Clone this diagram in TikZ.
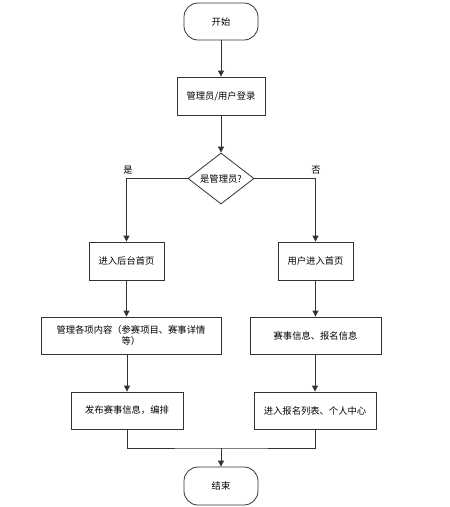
\documentclass[tikz,border=0pt]{standalone}
\usepackage{fontspec}
\setmainfont{Noto Sans CJK SC}
\usetikzlibrary{shapes.geometric,arrows.meta}
\definecolor{lc}{HTML}{333333}
\tikzset{
  base/.style={draw=lc, line width=0.8pt, font=\fontsize{9.3}{11}\selectfont, inner sep=0pt, align=center},
  term/.style={base, rectangle, rounded corners=14pt, minimum width=74pt, minimum height=37pt},
  proc/.style={base, rectangle, minimum height=38pt},
  dec/.style={base, diamond, minimum width=66pt, minimum height=51pt},
  conn/.style={draw=lc, line width=0.8pt, -{Triangle[length=6pt,width=6pt]}},
  plain/.style={draw=lc, line width=0.8pt},
  lbl/.style={font=\fontsize{9.3}{11}\selectfont, inner sep=0pt}
}
\begin{document}
\begin{tikzpicture}[x=1pt,y=-1pt]
\useasboundingbox (0,0) rectangle (450,507);
\node[term] (start) at (221,21.5) {开始};
\node[proc, minimum width=88pt] (login) at (221,96) {管理员/用户登录};
\node[dec] (dec) at (221,178.5) {\makebox[0pt]{是管理员?}};
\node[proc, minimum width=75pt] (a1) at (126.5,261) {进入后台首页};
\node[proc, minimum width=75pt] (b1) at (315.5,261) {用户进入首页};
\node[proc, minimum width=180pt, minimum height=37pt] (a2) at (131,335.5) {管理各项内容（参赛项目、赛事详情\\等）};
\node[proc, minimum width=131pt, minimum height=37pt] (b2) at (315.5,335.5) {赛事信息、报名信息};
\node[proc, minimum width=112pt, minimum height=37pt] (a3) at (127,410.5) {发布赛事信息，编排};
\node[proc, minimum width=122pt, minimum height=37pt] (b3) at (315,410.5) {进入报名列表、个人中心};
\node[term, minimum height=38pt] (end) at (221,486) {结束};
\node[lbl] (yes) at (128,170) {是};
\node[lbl] (no) at (316,170) {否};
\coordinate (m) at (221,448);
\draw[conn] (start) -- (login);
\draw[conn] (login) -- (dec);
\draw[conn] (dec.west) -| (a1.north);
\draw[conn] (dec.east) -| (b1.north);
\draw[conn] (a1) -- (a1 |- a2.north);
\draw[conn] (b1) -- (b2);
\draw[conn] (a2.south -| a3.north) -- (a3);
\draw[conn] (b2.south -| b3.north) -- (b3);
\draw[plain] (a3.south) |- (m) -| (b3.south);
\draw[conn] (m) -- (end);
\end{tikzpicture}
\end{document}
